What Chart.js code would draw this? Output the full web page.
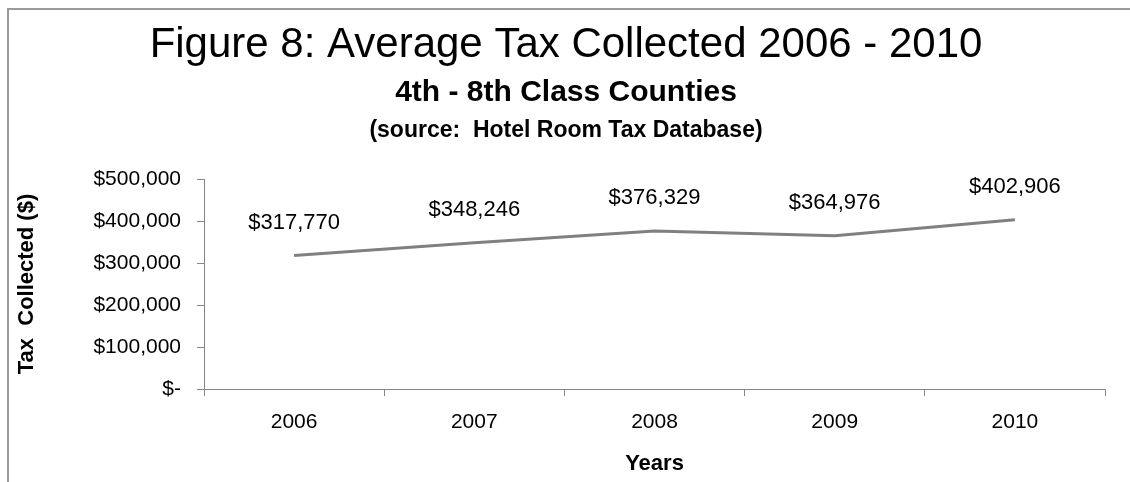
<!DOCTYPE html>
<html>
<head>
<meta charset="utf-8">
<script src="https://cdn.jsdelivr.net/npm/chart.js@4.4.1/dist/chart.umd.min.js"></script>
<style>
  html, body { margin: 0; padding: 0; background: #fff; }
  #wrap { position: relative; width: 1130px; height: 482px; overflow: hidden; }
  #frame {
    position: absolute; left: 7px; top: 8px; width: 1200px; height: 600px;
    border-top: 2px solid #9a9a9a; border-left: 2px solid #9a9a9a;
  }
  #canvas_tax { position: absolute; left: 0; top: 0; }
</style>
</head>
<body>
<div id="wrap">
  <div id="frame"></div>
  <canvas id="canvas_tax" width="1130" height="482"></canvas>
</div>
<script>
// Average tax collected, 4th - 8th class counties
var years = [ "2006", "2007", "2008", "2009", "2010" ];
var avgTax = [ 317770, 348246, 376329, 364976, 402906 ];
var taxTicks = [ 0, 100000, 200000, 300000, 400000, 500000 ];

var titleLines = [
	{ text : "Figure 8: Average Tax Collected 2006 - 2010", font : "42px 'Liberation Sans', Arial", y : 57 },
	{ text : "4th - 8th Class Counties", font : "bold 30px 'Liberation Sans', Arial", y : 101 },
	{ text : "(source:  Hotel Room Tax Database)", font : "bold 23px 'Liberation Sans', Arial", y : 137 }
];

var axisGrey = "#868686";

function money(v) {
	if (v === 0) {
		return "$-";
	}
	return "$" + v.toLocaleString("en-US");
}

// heading text above the plot
var headingPlugin = {
	id : "heading",
	afterDraw : function(chart) {
		var ctx = chart.ctx;
		ctx.save();
		ctx.fillStyle = "#000";
		ctx.textAlign = "center";
		ctx.textBaseline = "alphabetic";
		titleLines.forEach(function(t) {
			ctx.font = t.font;
			ctx.fillText(t.text, 566, t.y);
		});
		ctx.restore();
	}
};

// value written over each point
var valueLabels = {
	id : "valueLabels",
	afterDatasetsDraw : function(chart) {
		var ctx = chart.ctx;
		var meta = chart.getDatasetMeta(0);
		ctx.save();
		ctx.font = "22px 'Liberation Sans', Arial";
		ctx.fillStyle = "#000";
		ctx.textAlign = "center";
		ctx.textBaseline = "middle";
		meta.data.forEach(function(pt, i) {
			ctx.fillText(money(avgTax[i]), pt.x, pt.y - 33);
		});
		ctx.restore();
	}
};

var taxChart = new Chart(document.getElementById("canvas_tax"), {
	type : "line",
	data : {
		labels : years,
		datasets : [ {
			data : avgTax,
			borderColor : "#808080",
			borderWidth : 3,
			pointRadius : 0,
			tension : 0
		} ]
	},
	plugins : [ headingPlugin, valueLabels ],
	options : {
		responsive : false,
		animation : false,
		layout : {
			padding : { top : 179, right : 25, bottom : 0, left : 0 }
		},
		plugins : {
			legend : { display : false },
			tooltip : { enabled : false }
		},
		scales : {
			x : {
				offset : true,
				afterFit : function(scale) {
					scale.height = 93;
				},
				grid : {
					offset : true,
					drawOnChartArea : false,
					tickLength : 7,
					color : axisGrey
				},
				border : { color : axisGrey, width : 1 },
				ticks : {
					padding : 14,
					color : "#000",
					font : { family : "'Liberation Sans', Arial", size : 21 }
				},
				title : {
					display : true,
					text : "Years",
					color : "#000",
					padding : { top : 0, bottom : 5 },
					font : { family : "'Liberation Sans', Arial", size : 22, weight : "bold" }
				}
			},
			y : {
				min : 0,
				max : 500000,
				afterFit : function(scale) {
					scale.width = 204;
				},
				afterBuildTicks : function(scale) {
					scale.ticks = taxTicks.map(function(v) {
						return { value : v };
					});
				},
				grid : {
					drawOnChartArea : false,
					tickLength : 7,
					color : axisGrey
				},
				border : { color : axisGrey, width : 1 },
				ticks : {
					padding : 16,
					color : "#000",
					font : { family : "'Liberation Sans', Arial", size : 21 },
					callback : function(v) {
						return money(v);
					}
				},
				title : {
					display : true,
					text : "Tax  Collected ($)",
					color : "#000",
					padding : { top : 14, bottom : 0 },
					font : { family : "'Liberation Sans', Arial", size : 22, weight : "bold" }
				}
			}
		}
	}
});
</script>
</body>
</html>
